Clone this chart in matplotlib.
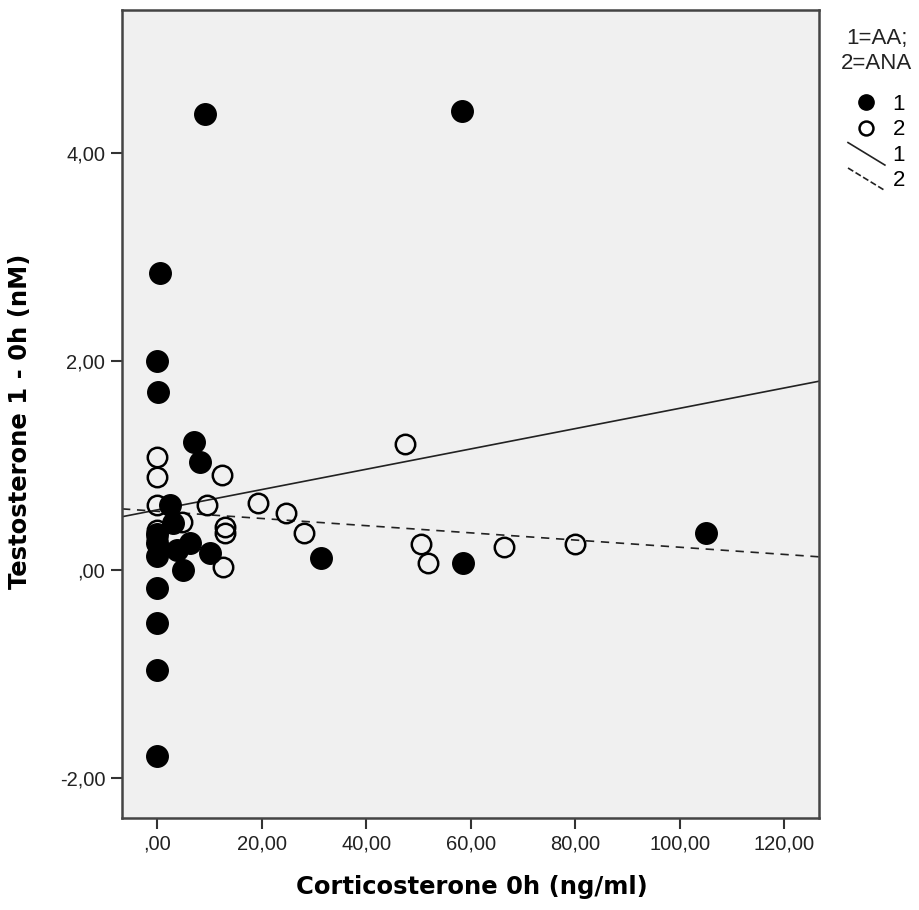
import matplotlib
matplotlib.use("Agg")
import matplotlib.pyplot as plt
import numpy as np
from matplotlib.lines import Line2D
from matplotlib.legend_handler import HandlerLine2D

# ---- data ----
g1_x = [9.2, 58.3, 0.6, 0.0, 0.2, 7.1, 8.2, 2.5, 3.1, 0.0, 0.0, 0.0, 3.8, 6.3, 10.1, 5.0, 0.0, 0.0, 0.0, 0.0, 31.4, 58.5, 105.0]
g1_y = [4.37, 4.40, 2.85, 2.00, 1.71, 1.23, 1.03, 0.62, 0.45, 0.34, 0.26, 0.13, 0.19, 0.26, 0.16, 0.00, -0.17, -0.51, -0.96, -1.79, 0.11, 0.07, 0.35]
g2_x = [0.0, 0.0, 12.4, 0.0, 9.6, 19.3, 4.8, 0.0, 13.0, 13.0, 0.0, 12.6, 24.7, 28.1, 47.4, 50.5, 51.8, 66.3, 79.9]
g2_y = [1.08, 0.89, 0.91, 0.62, 0.62, 0.64, 0.46, 0.38, 0.41, 0.35, 0.31, 0.03, 0.55, 0.35, 1.21, 0.25, 0.07, 0.22, 0.25]
fit1 = [0.575, 0.00975]   # intercept, slope (group 1)
fit2 = [0.562, -0.00345]  # intercept, slope (group 2)
xticks = [0, 20, 40, 60, 80, 100, 120]
xticklabels = [",00", "20,00", "40,00", "60,00", "80,00", "100,00", "120,00"]
yticks = [-2, 0, 2, 4]
yticklabels = ["-2,00", ",00", "2,00", "4,00"]
legend_title = "1=AA;\n2=ANA"
legend_labels = ["1", "2", "1", "2"]

plt.rcParams['font.family'] = ['Liberation Sans', 'DejaVu Sans']

fig = plt.figure(figsize=(9.19, 9.10), dpi=100)
ax = fig.add_axes([122/919, 1-818/910, (819-122)/919, (818-10)/910])
ax.set_facecolor('#f0f0f0')
xlim = (-6.7, 126.6)
ax.set_xlim(*xlim)
ax.set_ylim(-2.38, 5.37)

ms = 15.5
ax.plot(g1_x, g1_y, 'o', ms=ms, mfc='black', mec='black', mew=1.0, ls='none', zorder=3)
ax.plot(g2_x, g2_y, 'o', ms=ms - 1.5, mfc='none', mec='black', mew=1.8, ls='none', zorder=4)

xx = np.array(xlim)
ax.plot(xx, fit1[0] + fit1[1]*xx, color='#222222', lw=1.2, zorder=2)
ax.plot(xx, fit2[0] + fit2[1]*xx, color='#222222', lw=1.2, dashes=(5, 4), zorder=2)

ax.set_xticks(xticks)
ax.set_xticklabels(xticklabels)
ax.set_yticks(yticks)
ax.set_yticklabels(yticklabels)
ax.tick_params(direction='out', length=8, width=1.5, color='#333333', labelsize=14.5, pad=4, labelcolor='#222222')
for s in ax.spines.values():
    s.set_linewidth(1.8)
    s.set_color('#444444')

ax.set_xlabel('Corticosterone 0h (ng/ml)', fontsize=17.5, fontweight='bold', family='DejaVu Sans')
ax.set_ylabel('Testosterone 1 - 0h (nM)', fontsize=17.5, fontweight='bold', family='DejaVu Sans')
ax.xaxis.label.set_va('center')
ax.yaxis.label.set_va('center')
ax.xaxis.set_label_coords((472 - 122) / 697, (818 - 887) / 808)
ax.yaxis.set_label_coords((20 - 122) / 697, (818 - 421) / 808)


class DiagHandler(HandlerLine2D):
    def create_artists(self, legend, orig_handle, xdescent, ydescent, width, height, fontsize, trans):
        line = Line2D([-xdescent, -xdescent + width], [height - ydescent + 2, -ydescent - 3])
        line.set_color(orig_handle.get_color())
        line.set_linewidth(orig_handle.get_linewidth())
        line.set_linestyle(orig_handle.get_linestyle())
        line.set_transform(trans)
        return [line]


h1 = Line2D([], [], marker='o', ls='none', ms=11, mfc='black', mec='black')
h2 = Line2D([], [], marker='o', ls='none', ms=10, mfc='none', mec='black', mew=1.8)
h3 = Line2D([], [], color='#222222', lw=1.2)
h4 = Line2D([], [], color='#222222', lw=1.2, ls=(0, (3, 3)))
fig.text(877/919, 1 - 51/910, legend_title, ha='center', va='center', multialignment='center',
         fontsize=16, color='#222222')
leg = fig.legend([h1, h2, h3, h4], legend_labels,
                 loc='upper left', bbox_to_anchor=(848/919, 1 - 94/910), frameon=False,
                 fontsize=16, handlelength=1.66, handletextpad=0.35,
                 labelspacing=0.2, borderaxespad=0.0, borderpad=0.0,
                 handler_map={h3: DiagHandler(), h4: DiagHandler()})

fig.savefig('out.png', dpi=100)
